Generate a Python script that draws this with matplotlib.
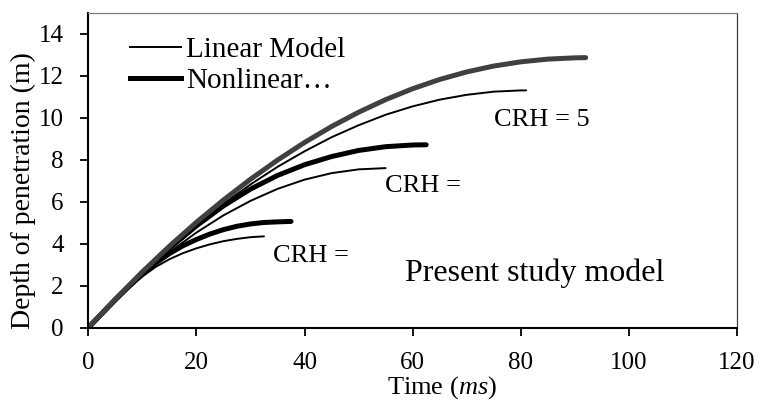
import matplotlib
matplotlib.use("Agg")
import matplotlib.pyplot as plt
from matplotlib.lines import Line2D

plt.rcParams['font.family'] = ['Liberation Serif', 'DejaVu Serif']
plt.rcParams['mathtext.fontset'] = 'custom'
plt.rcParams['mathtext.rm'] = 'Liberation Serif'
plt.rcParams['mathtext.it'] = 'Liberation Serif:italic'

# ---- data ----
t_lin_5 = [0, 5, 10, 15, 20, 25, 30, 35, 40, 45, 50, 55, 60, 65, 70, 75, 80, 81]
z_lin_5 = [0, 1.35, 2.62, 3.80, 4.89, 5.90, 6.82, 7.66, 8.40, 9.07, 9.64, 10.14, 10.54, 10.86, 11.09, 11.24, 11.30, 11.30]

t_non_5 = [0, 5, 10, 15, 20, 25, 30, 35, 40, 45, 50, 55, 60, 65, 70, 75, 80, 85, 90, 92]
z_non_5 = [0, 1.36, 2.66, 3.88, 5.02, 6.08, 7.07, 7.98, 8.82, 9.58, 10.26, 10.86, 11.38, 11.82, 12.18, 12.46, 12.66, 12.79, 12.85, 12.86]

t_lin_m = [0, 5, 10, 15, 20, 25, 30, 35, 40, 45, 50, 55]
z_lin_m = [0, 1.32, 2.52, 3.59, 4.53, 5.35, 6.04, 6.61, 7.05, 7.36, 7.54, 7.60]

t_non_m = [0, 5, 10, 15, 20, 25, 30, 35, 40, 45, 50, 55, 60, 62.5]
z_non_m = [0, 1.34, 2.60, 3.78, 4.85, 5.80, 6.60, 7.25, 7.76, 8.15, 8.44, 8.62, 8.70, 8.71]

t_lin_b = [0, 2.5, 5, 7.5, 10, 12.5, 15, 17.5, 20, 22.5, 25, 27.5, 30, 32.5]
z_lin_b = [0, 0.66, 1.30, 1.90, 2.44, 2.90, 3.26, 3.55, 3.78, 3.97, 4.12, 4.23, 4.31, 4.35]

t_non_b = [0, 2.5, 5, 7.5, 10, 12.5, 15, 17.5, 20, 22.5, 25, 27.5, 30, 32.5, 35, 37.5]
z_non_b = [0, 0.67, 1.33, 1.96, 2.55, 3.08, 3.53, 3.90, 4.20, 4.46, 4.67, 4.83, 4.94, 5.01, 5.04, 5.06]

x_ticks = [0, 20, 40, 60, 80, 100, 120]
y_ticks = [0, 2, 4, 6, 8, 10, 12, 14]

W, H = 761, 401
fig = plt.figure(figsize=(W / 100, H / 100), dpi=100)
ax = fig.add_axes([88.3 / W, 1 - 327.7 / H, (737 - 88.3) / W, (327.7 - 12.7) / H])

thin = 1.4
thick = 3.6
ax.plot(t_lin_b, z_lin_b, color='black', lw=thin, solid_capstyle='round')
ax.plot(t_non_b, z_non_b, color='black', lw=thick, solid_capstyle='round')
ax.plot(t_lin_m, z_lin_m, color='black', lw=thin, solid_capstyle='round')
ax.plot(t_non_m, z_non_m, color='black', lw=thick, solid_capstyle='round')
ax.plot(t_lin_5, z_lin_5, color='black', lw=thin, solid_capstyle='round')
ax.plot(t_non_5, z_non_5, color='#404040', lw=thick, solid_capstyle='round')

handles = [Line2D([], [], color='black', lw=thin), Line2D([], [], color='black', lw=thick)]
ax.legend(handles, ['Linear Model', 'Nonlinear\u2026'], loc='upper left',
          bbox_to_anchor=(130 / W, 1 - 37 / H), bbox_transform=fig.transFigure,
          frameon=False, fontsize=21, handlelength=1.75, handletextpad=0.17,
          labelspacing=0.16, borderpad=0, borderaxespad=0)

ax.set_xlim(0, 120)
ax.set_ylim(0, 15)
ax.set_xticks(x_ticks)
ax.set_yticks(y_ticks)
ax.tick_params(axis='both', direction='out', length=5.8, width=1.3, labelsize=18, colors='black')
ax.tick_params(axis='x', pad=12)
ax.tick_params(axis='y', pad=12)

for s in ['left', 'bottom']:
    ax.spines[s].set_linewidth(1.5)
    ax.spines[s].set_color('black')
ax.spines['top'].set_linewidth(0.9)
ax.spines['top'].set_color('#808080')
ax.spines['right'].set_linewidth(0.9)
ax.spines['right'].set_color('#404040')

ax.text(75.1, 9.9, 'CRH = 5', fontsize=19, va='center', ha='left')
ax.text(54.8, 6.75, 'CRH =', fontsize=19, va='center', ha='left')
ax.text(34.1, 3.4, 'CRH =', fontsize=19, va='center', ha='left')
ax.text(58.5, 2.6, 'Present study model', fontsize=23, va='center', ha='left')

fig.text(441.7 / W, 1 - 387.5 / H, 'Time ($ms$)', fontsize=19, ha='center', va='center')
fig.text(23 / W, 1 - 191 / H, 'Depth of penetration (m)', fontsize=20, ha='center', va='center', rotation=90)

fig.savefig('out.png', dpi=100)
